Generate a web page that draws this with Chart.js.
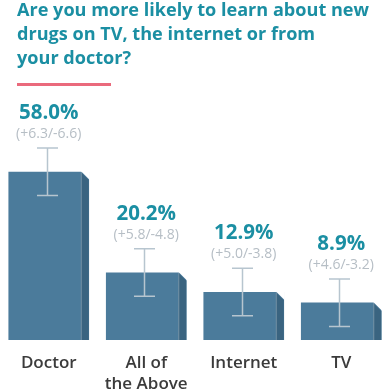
<!DOCTYPE html>
<html>
<head>
<meta charset="utf-8">
<script src="https://cdn.jsdelivr.net/npm/chart.js@4.4.1/dist/chart.umd.min.js"></script>
<style>
    html, body { margin: 0; padding: 0; background: #fff; }
    #wrap { position: relative; width: 390px; height: 390px; overflow: hidden; }
    #chart { position: absolute; left: 0; top: 0; }
    #title {
        position: absolute; left: 17px; top: -3px; width: 373px; margin: 0;
        font-family: 'Open Sans', sans-serif; font-weight: 700; font-size: 18.1px;
        line-height: 24px; color: #1b8fa3; white-space: nowrap;
    }
    #rule { position: absolute; left: 17px; top: 83px; width: 94px; height: 3px; background: #ea6a7c; }
</style>
</head>
<body>
<div id="wrap">
    <canvas id="chart" width="390" height="390"></canvas>
    <h1 id="title">Are you more likely to learn about new<br>drugs on TV, the internet or from<br>your doctor?</h1>
    <div id="rule"></div>
</div>
<script>
// data
const categories = [['Doctor'], ['All of', 'the Above'], ['Internet'], ['TV']];
const shares = [58.0, 20.2, 12.9, 8.9];
const errPlus = [6.3, 5.8, 5.0, 4.6];
const errMinus = [6.6, 4.8, 3.8, 3.2];

const FRONT = '#4b7b9b';
const SIDE = '#3a6480';
const TEAL = '#1b8fa3';

// 3d side face, whiskers and value labels
const decorPlugin = {
    id: 'decor',
    afterDatasetsDraw(chart) {
        const ctx = chart.ctx;
        const meta = chart.getDatasetMeta(0);
        const sideW = 8, drop = 8;
        meta.data.forEach((bar, i) => {
            const right = bar.x + bar.width / 2;
            const edge = right - sideW;
            const top = bar.y, base = bar.base;

            ctx.save();
            // cut the top-right corner
            ctx.fillStyle = '#fff';
            ctx.beginPath();
            ctx.moveTo(edge, top - 1);
            ctx.lineTo(right + 1, top - 1);
            ctx.lineTo(right + 1, top + drop);
            ctx.closePath();
            ctx.fill();
            // side face
            ctx.fillStyle = SIDE;
            ctx.beginPath();
            ctx.moveTo(edge, top);
            ctx.lineTo(right, top + drop);
            ctx.lineTo(right, base);
            ctx.lineTo(edge, base);
            ctx.closePath();
            ctx.fill();
            ctx.strokeStyle = 'rgba(255,255,255,0.3)';
            ctx.lineWidth = 1;
            ctx.beginPath();
            ctx.moveTo(edge + 0.5, top);
            ctx.lineTo(edge + 0.5, base);
            ctx.stroke();

            // whisker
            const wx = Math.round(bar.x - 2) + 0.5;
            const wTop = top - 24, wBot = top + 23.5;
            ctx.strokeStyle = '#b7c5cf';
            ctx.lineWidth = 1.5;
            ctx.beginPath();
            ctx.moveTo(wx, wTop);
            ctx.lineTo(wx, wBot);
            ctx.moveTo(wx - 10.5, wTop);
            ctx.lineTo(wx + 10.5, wTop);
            ctx.moveTo(wx - 10.5, wBot);
            ctx.lineTo(wx + 10.5, wBot);
            ctx.stroke();

            // labels
            ctx.textAlign = 'center';
            ctx.textBaseline = 'middle';
            ctx.fillStyle = TEAL;
            ctx.font = '700 20.5px "Open Sans"';
            ctx.fillText(shares[i].toFixed(1) + '%', bar.x, top - 59);
            ctx.fillStyle = '#b6bec5';
            ctx.font = '400 14px "Open Sans"';
            ctx.fillText('(+' + errPlus[i].toFixed(1) + '/-' + errMinus[i].toFixed(1) + ')', bar.x, top - 38);
            ctx.restore();
        });
    }
};

new Chart(document.getElementById('chart').getContext('2d'), {
    type: 'bar',
    data: {
        labels: categories,
        datasets: [{
            data: shares,
            base: -5,
            backgroundColor: FRONT,
            borderWidth: 0,
            barThickness: 80
        }]
    },
    options: {
        responsive: false,
        animation: false,
        layout: { padding: { top: 140, left: -1, right: -4, bottom: 0 } },
        plugins: {
            legend: { display: false },
            tooltip: { enabled: false }
        },
        scales: {
            y: { display: false, min: -5, max: 70 },
            x: {
                grid: { display: false, drawTicks: false },
                border: { display: false },
                ticks: {
                    color: '#3b3b3b',
                    padding: 13,
                    font: { family: 'Open Sans', weight: '600', size: 17, lineHeight: 1.22 }
                },
                afterFit: axis => { axis.height = 50; }
            }
        }
    },
    plugins: [decorPlugin]
});
</script>
</body>
</html>
